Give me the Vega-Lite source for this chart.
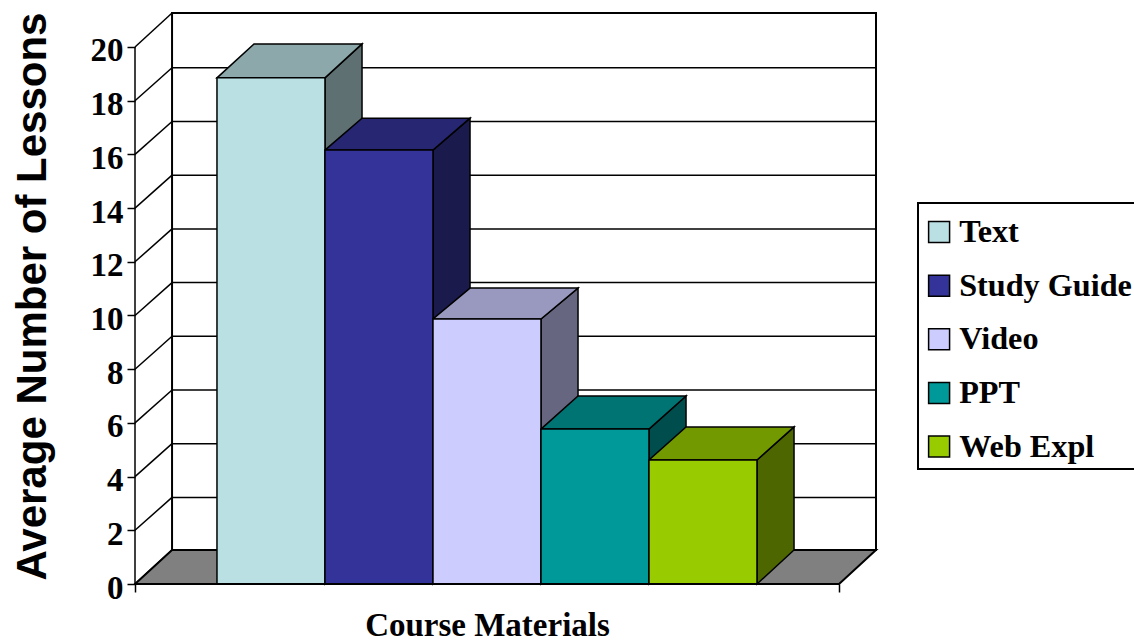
{
"$schema":"https://vega.github.io/schema/vega-lite/v6.json",
"autosize":"none","width":741,"height":571,
"padding":{"left":135,"top":13,"right":258,"bottom":58},
"background":"white",
"config":{"view":{"stroke":null},"legend":{"strokeWidth":2}},
"datasets":{
"bars":[
{"material":"Text","value":18.85,"start":0.759,"end":1.759},
{"material":"Study Guide","value":16.16,"start":1.759,"end":2.759},
{"material":"Video","value":9.87,"start":2.759,"end":3.759},
{"material":"PPT","value":5.77,"start":3.759,"end":4.759},
{"material":"Web Expl","value":4.62,"start":4.759,"end":5.759}],
"sides":[
{"shade":"Text side","pos":1.759,"low":0,"high":18.85},{"shade":"Text side","pos":2.102,"low":1.266,"high":20.116},
{"shade":"Study Guide side","pos":2.759,"low":0,"high":16.16},{"shade":"Study Guide side","pos":3.102,"low":1.266,"high":17.35},
{"shade":"Video side","pos":3.759,"low":0,"high":9.87},{"shade":"Video side","pos":4.102,"low":1.266,"high":11.02},
{"shade":"PPT side","pos":4.759,"low":0,"high":5.77},{"shade":"PPT side","pos":5.102,"low":1.266,"high":7.0},
{"shade":"Web Expl side","pos":5.759,"low":0,"high":4.62},{"shade":"Web Expl side","pos":6.102,"low":1.266,"high":5.85}],
"tops":[
{"shade":"Text top","pos":0.759,"low":18.85,"high":18.85},{"shade":"Text top","pos":1.102,"low":18.85,"high":20.116},{"shade":"Text top","pos":1.759,"low":18.85,"high":20.116},{"shade":"Text top","pos":2.102,"low":20.116,"high":20.116},
{"shade":"Study Guide top","pos":1.759,"low":16.16,"high":16.16},{"shade":"Study Guide top","pos":2.102,"low":16.16,"high":17.35},{"shade":"Study Guide top","pos":2.759,"low":16.16,"high":17.35},{"shade":"Study Guide top","pos":3.102,"low":17.35,"high":17.35},
{"shade":"Video top","pos":2.759,"low":9.87,"high":9.87},{"shade":"Video top","pos":3.102,"low":9.87,"high":11.02},{"shade":"Video top","pos":3.759,"low":9.87,"high":11.02},{"shade":"Video top","pos":4.102,"low":11.02,"high":11.02},
{"shade":"PPT top","pos":3.759,"low":5.77,"high":5.77},{"shade":"PPT top","pos":4.102,"low":5.77,"high":7.0},{"shade":"PPT top","pos":4.759,"low":5.77,"high":7.0},{"shade":"PPT top","pos":5.102,"low":7.0,"high":7.0},
{"shade":"Web Expl top","pos":4.759,"low":4.62,"high":4.62},{"shade":"Web Expl top","pos":5.102,"low":4.62,"high":5.85},{"shade":"Web Expl top","pos":5.759,"low":4.62,"high":5.85},{"shade":"Web Expl top","pos":6.102,"low":5.85,"high":5.85}],
"floor":[
{"pos":0,"low":0,"high":0},{"pos":0.343,"low":0,"high":1.266},{"pos":6.519,"low":0,"high":1.266},{"pos":6.861,"low":1.266,"high":1.266}],
"wall":[{"left":0.343,"right":6.861,"bottom":1.266,"top":21.266}],
"ticks":[{"tick":0,"lift":1.266},{"tick":2,"lift":3.226},{"tick":4,"lift":5.226},{"tick":6,"lift":7.226},{"tick":8,"lift":9.226},{"tick":10,"lift":11.226},{"tick":12,"lift":13.226},{"tick":14,"lift":15.226},{"tick":16,"lift":17.226},{"tick":18,"lift":19.226},{"tick":20,"lift":21.266}],
"frame":[{"x0":0,"x1":6.519,"y0":0,"y1":20}]
},
"layer":[
{"data":{"name":"wall"},"mark":{"type":"rect","fill":"white","stroke":"black","strokeWidth":2},
"encoding":{
"x":{"field":"left","type":"quantitative","scale":{"domain":[0,6.861],"nice":false,"zero":false},
"axis":{"values":[0,6.519],"labels":false,"grid":false,"domain":false,"tickColor":"black","tickSize":8,"tickWidth":1.5,"title":"Course Materials","titleFont":"Liberation Serif","titleFontSize":33,"titleFontWeight":"bold","titleColor":"black","titleX":352,"titleY":41,"titleBaseline":"middle","titleAlign":"center"}},
"x2":{"field":"right"},
"y":{"field":"bottom","type":"quantitative","scale":{"domain":[0,21.266],"nice":false,"zero":false},
"axis":{"values":[0,2,4,6,8,10,12,14,16,18,20],"grid":false,"domain":false,"tickColor":"black","tickSize":8,"tickWidth":1.5,"labelPadding":4,"labelOffset":4,"labelFont":"Liberation Serif","labelFontSize":33,"labelFontWeight":"bold","labelColor":"black","title":"Average Number of Lessons","titleFont":"Liberation Sans","titleFontSize":42,"titleFontWeight":"bold","titleColor":"black","titleX":-103,"titleY":283,"titleAngle":-90,"titleBaseline":"middle","titleAlign":"center"}},
"y2":{"field":"top"}}},
{"data":{"name":"ticks"},"mark":{"type":"rule","stroke":"black","strokeWidth":1.5},
"encoding":{"x":{"datum":0.343,"type":"quantitative"},"x2":{"datum":6.861},"y":{"field":"lift","type":"quantitative"}}},
{"data":{"name":"ticks"},"mark":{"type":"rule","stroke":"black","strokeWidth":1.5},
"encoding":{"x":{"datum":0,"type":"quantitative"},"x2":{"datum":0.343},"y":{"field":"tick","type":"quantitative"},"y2":{"field":"lift"}}},
{"data":{"name":"floor"},"mark":{"type":"area","fill":"#808080","stroke":"black","strokeWidth":2},
"encoding":{"x":{"field":"pos","type":"quantitative"},"y":{"field":"low","type":"quantitative"},"y2":{"field":"high"}}},
{"data":{"name":"sides"},"mark":{"type":"area","stroke":"black","strokeWidth":1.5},
"encoding":{"x":{"field":"pos","type":"quantitative"},"y":{"field":"low","type":"quantitative"},"y2":{"field":"high"},
"fill":{"field":"shade","type":"nominal","legend":null,"scale":{"domain":["Text side","Study Guide side","Video side","PPT side","Web Expl side","Text top","Study Guide top","Video top","PPT top","Web Expl top"],"range":["#5E7072","#1A1A4D","#666680","#004D4D","#4D6600","#8CA8AA","#262673","#9999BF","#007373","#739900"]}}}},
{"data":{"name":"tops"},"mark":{"type":"area","stroke":"black","strokeWidth":1.5},
"encoding":{"x":{"field":"pos","type":"quantitative"},"y":{"field":"low","type":"quantitative"},"y2":{"field":"high"},
"fill":{"field":"shade","type":"nominal","legend":null}}},
{"data":{"name":"bars"},"mark":{"type":"rect","stroke":"black","strokeWidth":1.5},
"encoding":{"x":{"field":"start","type":"quantitative"},"x2":{"field":"end"},"y":{"field":"value","type":"quantitative"},"y2":{"datum":0},
"color":{"field":"material","type":"nominal","sort":null,"scale":{"domain":["Text","Study Guide","Video","PPT","Web Expl"],"range":["#BBE0E3","#333399","#CCCCFF","#009999","#99CC00"]},
"legend":{"orient":"none","legendX":783,"legendY":190,"title":" ","titleFontSize":1,"titlePadding":6,"symbolType":"square","symbolSize":440,"symbolStrokeColor":"black","symbolStrokeWidth":1.5,"symbolOpacity":1,"symbolOffset":-1,"labelFont":"Liberation Serif","labelFontSize":32.2,"labelFontWeight":"bold","labelColor":"black","labelLimit":400,"labelOffset":4,"rowPadding":20.6,"padding":6,"strokeColor":"black","fillColor":"white"}}}},
{"data":{"name":"frame"},"mark":{"type":"rule","stroke":"black","strokeWidth":2},
"encoding":{"x":{"field":"x0","type":"quantitative"},"x2":{"field":"x1"},"y":{"datum":0,"type":"quantitative"}}},
{"data":{"name":"frame"},"mark":{"type":"rule","stroke":"black","strokeWidth":1.5},
"encoding":{"x":{"field":"x0","type":"quantitative"},"y":{"field":"y0","type":"quantitative"},"y2":{"field":"y1"}}}
]
}
